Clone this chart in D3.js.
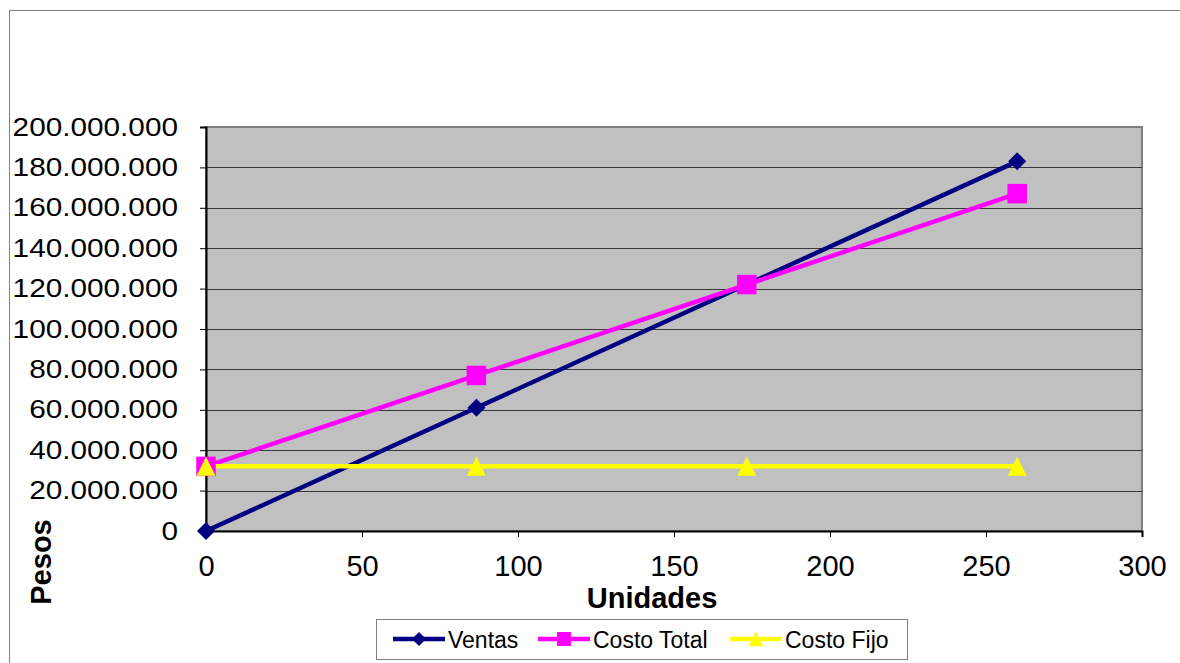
<!DOCTYPE html>
<html>
<head>
<meta charset="utf-8">
<script src="https://cdn.jsdelivr.net/npm/d3@7"></script>
<style>
  body { margin: 0; background: #fff; }
  text { font-family: "Liberation Sans", Arial, sans-serif; }
</style>
</head>
<body>
<div id="chart"></div>
<script>
// Data
const unidades = [0, 86.67, 173.33, 260];
const ventas = [0, 61000000, 122000000, 183000000];
const costoTotal = [32000000, 77000000, 122000000, 167000000];
const costoFijo = [32000000, 32000000, 32000000, 32000000];
const xTicks = [0, 50, 100, 150, 200, 250, 300];
const yTicks = [0, 20000000, 40000000, 60000000, 80000000, 100000000,
                120000000, 140000000, 160000000, 180000000, 200000000];

// marker shapes like the old spreadsheet ones
const diamond = {draw(ctx, size) {
  const r = Math.sqrt(size / 2);
  ctx.moveTo(0, -r); ctx.lineTo(r, 0); ctx.lineTo(0, r); ctx.lineTo(-r, 0); ctx.closePath();
}};
const square = {draw(ctx, size) {
  const h = Math.sqrt(size) / 2;
  ctx.rect(-h, -h, h * 2, h * 2);
}};
const triangle = {draw(ctx, size) {
  const h = Math.sqrt(size) / 2;
  ctx.moveTo(0, -h); ctx.lineTo(h, h); ctx.lineTo(-h, h); ctx.closePath();
}};

const series = [
  {name: "Ventas", values: ventas, color: "#000080", symbol: diamond, size: 162, legSize: 100},
  {name: "Costo Total", values: costoTotal, color: "#FF00FF", symbol: square, size: 380, legSize: 196},
  {name: "Costo Fijo", values: costoFijo, color: "#FFFF00", symbol: triangle, size: 360, legSize: 210}
];

const W = 1180, H = 663;
const plot = {left: 206, top: 127, right: 1142, bottom: 531};

const svg = d3.select("#chart").append("svg")
  .attr("width", W).attr("height", H);

// outer chart border
svg.append("rect")
  .attr("x", 9.5).attr("y", 10.5)
  .attr("width", W + 10).attr("height", H + 10)
  .attr("fill", "#fff").attr("stroke", "#808080").attr("stroke-width", 1);

const x = d3.scaleLinear().domain([0, 300]).range([plot.left, plot.right]);
const y = d3.scaleLinear().domain([0, 200000000]).range([plot.bottom, plot.top]);

// plot background
svg.append("rect")
  .attr("x", plot.left).attr("y", plot.top)
  .attr("width", plot.right - plot.left).attr("height", plot.bottom - plot.top)
  .attr("fill", "#C0C0C0").attr("stroke", "#808080").attr("stroke-width", 2);

// gridlines
svg.append("g").selectAll("line")
  .data(yTicks.filter(d => d > 0 && d < 200000000))
  .enter().append("line")
  .attr("x1", plot.left).attr("x2", plot.right)
  .attr("y1", d => Math.round(y(d)) + 0.5).attr("y2", d => Math.round(y(d)) + 0.5)
  .attr("stroke", "#383838").attr("stroke-width", 1);

const fmt = d => d3.format(",")(d).replace(/,/g, ".");

// y axis (labels stretched a bit sideways, as in the picture)
const sx = 1.19;
const yAxis = svg.append("g")
  .attr("transform", "translate(" + plot.left + ",0)")
  .call(d3.axisLeft(y).tickValues(yTicks).tickFormat(fmt).tickSize(6).tickPadding(22));
yAxis.select(".domain").attr("stroke", "#000").attr("stroke-width", 2);
yAxis.selectAll(".tick line").attr("stroke", "#000");
yAxis.selectAll("text")
  .attr("font-size", 25).attr("fill", "#000")
  .attr("x", -28 / sx)
  .attr("transform", "scale(" + sx + ",1)");

// x axis
const xAxis = svg.append("g")
  .attr("transform", "translate(0," + plot.bottom + ")")
  .call(d3.axisBottom(x).tickValues(xTicks).tickSize(6).tickPadding(18));
xAxis.select(".domain").attr("stroke", "#000").attr("stroke-width", 2);
xAxis.selectAll(".tick line").attr("stroke", "#000");
xAxis.selectAll("text").attr("font-size", 29).attr("fill", "#000");

// axis titles
svg.append("text")
  .attr("x", 652).attr("y", 608)
  .attr("text-anchor", "middle")
  .attr("font-size", 29).attr("font-weight", "bold")
  .text("Unidades");

svg.append("text")
  .attr("transform", "translate(51,562) rotate(-90)")
  .attr("text-anchor", "middle")
  .attr("font-size", 29).attr("font-weight", "bold")
  .text("Pesos");

// lines and markers
const line = d3.line()
  .x((d, i) => x(unidades[i]))
  .y(d => y(d));

series.forEach(s => {
  svg.append("path")
    .attr("d", line(s.values))
    .attr("fill", "none")
    .attr("stroke", s.color)
    .attr("stroke-width", 4.5);
});

series.forEach(s => {
  svg.append("g").selectAll("path")
    .data(s.values)
    .enter().append("path")
    .attr("transform", (d, i) => "translate(" + x(unidades[i]) + "," + y(d) + ")")
    .attr("d", d3.symbol().type(s.symbol).size(s.size))
    .attr("fill", s.color);
});

// legend
const leg = svg.append("g");
leg.append("rect")
  .attr("x", 376.5).attr("y", 619.5)
  .attr("width", 531).attr("height", 40)
  .attr("fill", "#fff").attr("stroke", "#808080").attr("stroke-width", 1);

const legX = [393, 538, 730];
series.forEach((s, i) => {
  const g = leg.append("g").attr("transform", "translate(" + legX[i] + ",639)");
  g.append("line").attr("x1", 0).attr("x2", 52).attr("y1", 0).attr("y2", 0)
    .attr("stroke", s.color).attr("stroke-width", 4.5);
  g.append("path")
    .attr("transform", "translate(26,0)")
    .attr("d", d3.symbol().type(s.symbol).size(s.legSize))
    .attr("fill", s.color);
  g.append("text")
    .attr("x", 55).attr("y", 8.5)
    .attr("font-size", 23)
    .text(s.name);
});
</script>
</body>
</html>
